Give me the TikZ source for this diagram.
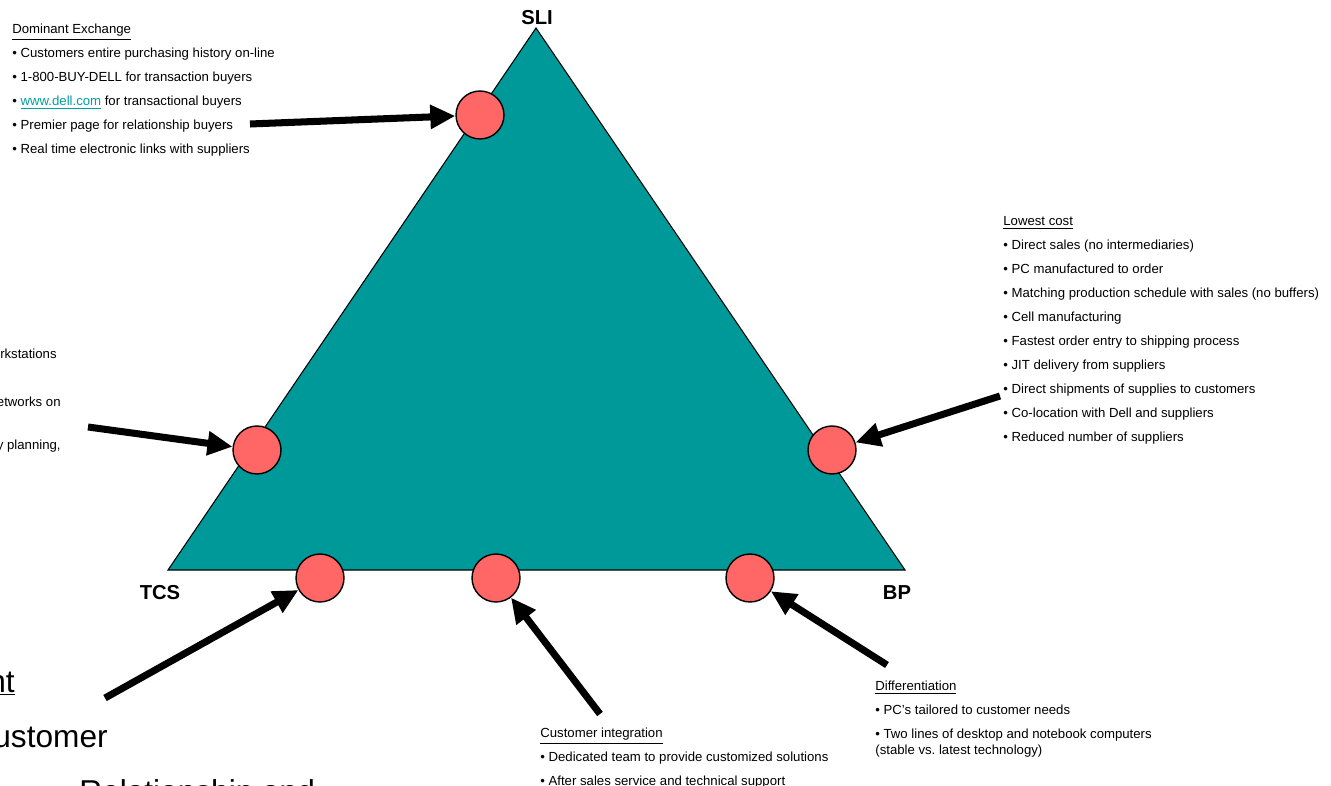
\documentclass[tikz,border=0pt]{standalone}
\usepackage{fontspec}
\setmainfont{Liberation Sans}
\usetikzlibrary{arrows.meta}
\definecolor{deltateal}{HTML}{009999}
\definecolor{spotred}{HTML}{FF6666}
\definecolor{linkteal}{HTML}{00A0A0}
\tikzstyle{spot} = [circle, draw, line width=0.8pt, fill=spotred, minimum size=0.96cm, inner sep=0pt]
\tikzstyle{corner} = [font=\fontsize{11.5}{13}\selectfont\bfseries, inner sep=0pt]
\tikzstyle{notes} = [align=left, inner sep=0pt, font=\fontsize{7.5}{13.66}\selectfont]
\tikzstyle{bignotes} = [inner sep=0pt, font=\fontsize{18}{20}\selectfont]
\tikzstyle{line} = [draw, line width=4pt, color=black, -{Triangle[length=0.5cm,width=0.46cm]}]

\begin{document}
\begin{tikzpicture}[x=0.02cm, y=-0.02cm]
    \useasboundingbox (0,0) rectangle (1331,786);
    % Triangle
    \coordinate (sli) at (536,28);
    \coordinate (tcs) at (168,570);
    \coordinate (bp) at (905,570);
    \draw [fill=deltateal, line width=0.6pt] (sli) -- (tcs) -- (bp) -- cycle;
    \node [corner] (slilabel) at (537,18) {SLI};
    \node [corner] (tcslabel) at (160,593) {TCS};
    \node [corner] (bplabel) at (897,593) {BP};
    % Place circles
    \node [spot] (exchange) at (480,115) {};
    \node [spot] (systems) at (257,450) {};
    \node [spot] (lowcost) at (832,450) {};
    \node [spot] (relation) at (320,578) {};
    \node [spot] (integration) at (496,578) {};
    \node [spot] (differ) at (750,578) {};
    % Place notes
    \node [notes, anchor=north west] (exchangetext) at (12,24) {\underline{Dominant Exchange}\\
        \textbullet\ Customers entire purchasing history on-line\\
        \textbullet\ 1-800-BUY-DELL for transaction buyers\\
        \textbullet\ \textcolor{linkteal}{\underline{www.dell.com}} for transactional buyers\\
        \textbullet\ Premier page for relationship buyers\\
        \textbullet\ Real time electronic links with suppliers};
    \node [notes, anchor=base east] (systemsline1) at (57,359) {rkstations};
    \node [notes, anchor=base east] (systemsline2) at (61,407) {etworks on};
    \node [notes, anchor=base east] (systemsline3) at (61,450) {y planning,};
    \node [notes, anchor=north west] (lowcosttext) at (1003,216) {\underline{Lowest cost}\\
        \textbullet\ Direct sales (no intermediaries)\\
        \textbullet\ PC manufactured to order\\
        \textbullet\ Matching production schedule with sales (no buffers)\\
        \textbullet\ Cell manufacturing\\
        \textbullet\ Fastest order entry to shipping process\\
        \textbullet\ JIT delivery from suppliers\\
        \textbullet\ Direct shipments of supplies to customers\\
        \textbullet\ Co-location with Dell and suppliers\\
        \textbullet\ Reduced number of suppliers};
    \node [notes, anchor=north west] (integrationtext) at (540,728) {\underline{Customer integration}\\
        \textbullet\ Dedicated team to provide customized solutions\\
        \textbullet\ After sales service and technical support};
    \node [notes, anchor=north west] (differtext) at (875,681) {\underline{Differentiation}\\
        \textbullet\ PC’s tailored to customer needs\\
        \textbullet\ Two lines of desktop and notebook computers\\[-4.5pt]
        (stable vs.\ latest technology)};
    \node [bignotes, anchor=base east] (bigtext1) at (15,692) {\underline{nt}};
    \node [bignotes, anchor=base east] (bigtext2) at (108,747) {ustomer};
    \node [bignotes, anchor=base west] (bigtext3) at (79,802) {Relationship and};
    % Arrow tails
    \coordinate (fromexchange) at (250,124);
    \coordinate (fromsystems) at (88,427);
    \coordinate (fromlowcost) at (1000,396);
    \coordinate (fromrelation) at (105,698);
    \coordinate (fromintegration) at (600,714);
    \coordinate (fromdiffer) at (887,665);
    % Draw edges
    \path [line] (fromexchange) -- (exchange);
    \path [line] (fromsystems) -- (systems);
    \path [line] (fromlowcost) -- (lowcost);
    \path [line] (fromrelation) -- (relation);
    \path [line] (fromintegration) -- (integration);
    \path [line] (fromdiffer) -- (differ);
\end{tikzpicture}
\end{document}
